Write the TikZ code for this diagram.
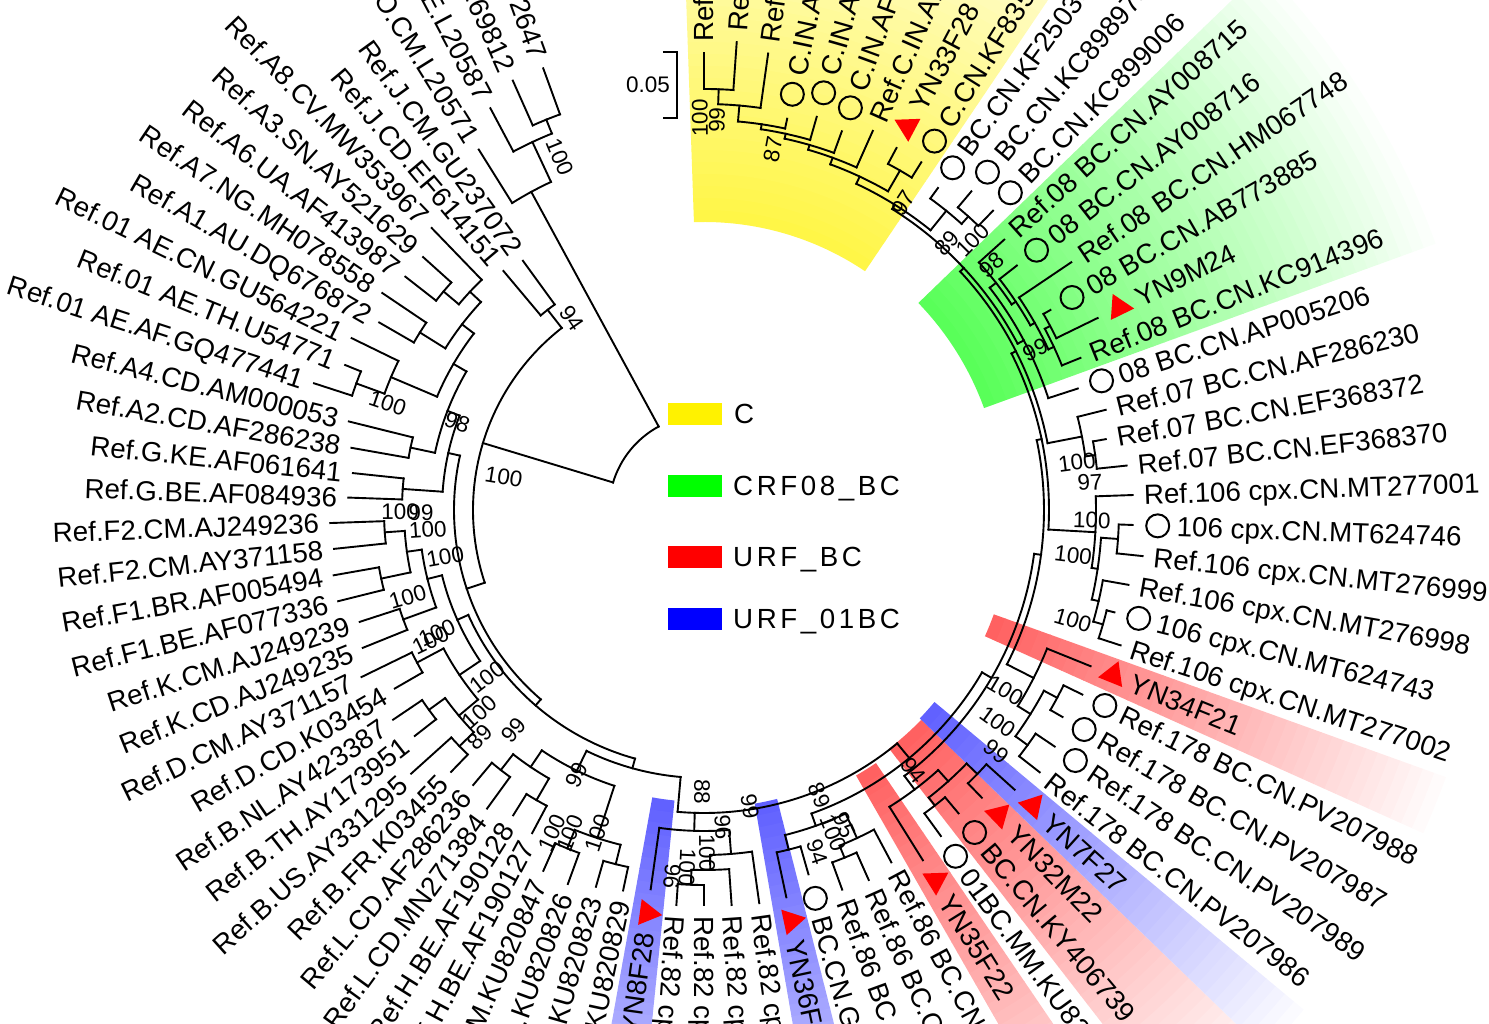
\documentclass[tikz,border=0pt]{standalone}
\usepackage{fontspec}
\setmainfont{Liberation Sans}
\usetikzlibrary{shapes.geometric}
\tikzset{
  br/.style={line width=1.9pt, line cap=rect},
  lab/.style={font=\fontsize{27.7}{30}\selectfont, inner sep=0pt, text height=19.8pt, text depth=0pt},
  boot/.style={font=\fontsize{22.5}{24}\selectfont, inner sep=0pt},
  symc/.style={line width=2pt},
  tri/.style={regular polygon, regular polygon sides=3, fill=red, inner sep=0pt, minimum size=30pt},
  legbox/.style={minimum width=54pt, minimum height=22pt, inner sep=0pt},
  legtxt/.style={font=\fontsize{27.7}{30}\selectfont\addfontfeatures{LetterSpace=13}, inner sep=0pt, anchor=west, text height=19.8pt, text depth=0pt}
}
% arc only
\newcommand\Ab[3]{\draw[br] (#1:#3) arc[start angle=#1,end angle=#2,radius=#3];}
% radial segment only: angle, r1, r2
\newcommand\Rb[3]{\draw[br] (#1:#2) -- (#1:#3);}
% node: arc from a1 to a2 at radius r, stem from parent radius pr
\newcommand\Nd[4]{%
  \pgfmathsetmacro\ndang{(#1+#2)/2}%
  \draw[br] (#1:#3) arc[start angle=#1,end angle=#2,radius=#3];
  \draw[br] (\ndang:#4) -- (\ndang:#3);}
% leaf branch
\newcommand\Lf[3]{%
  \pgfmathsetmacro\lfang{90-4*(#1)}%
  \draw[br] (\lfang:#2) -- (\lfang:#3);}
% leaf label: index, tip radius, symbol (0 none,1 circle,2 triangle), text
\newcommand\Leaf[4]{%
  \pgfmathsetmacro\lfang{90-4*(#1)}%
  \ifcase#3\relax
    \pgfmathsetmacro\lfrad{#2+11}%
  \or
    \pgfmathsetmacro\lfrad{#2+44}%
    \pgfmathsetmacro\symr{#2+25}%
    \draw[symc] (\lfang:\symr) circle[radius=11.5];
  \or
    \pgfmathsetmacro\lfrad{#2+44}%
    \pgfmathsetmacro\symr{#2+24}%
    \node[tri,rotate=\lfang] (tri#1) at (\lfang:\symr) {};
  \fi
  \ifnum#1<47
    \node[lab,anchor=west,rotate=\lfang] (leaf#1) at (\lfang:\lfrad) {#4};
  \else
    \pgfmathsetmacro\lfrot{\lfang+180}%
    \node[lab,anchor=east,rotate=\lfrot] (leaf#1) at (\lfang:\lfrad) {#4};
  \fi}
% bootstrap value
\newcommand\Bs[4]{%
  \pgfmathsetmacro\brot{ifthenelse(#2>96,#2-180,ifthenelse(#2<-96,#2+180,#2))}%
  \node[boot,rotate=\brot] (#1) at (#2:#3) {#4};}
% highlight wedge fading outwards
\newcommand\Wedge[5]{%
  \foreach \k in {0,...,39}{%
    \pgfmathsetmacro\wra{#3+\k*12}%
    \pgfmathsetmacro\wrb{\wra+12.6}%
    \pgfmathsetmacro\wint{#5*(1-\k/40)}%
    \fill[#4!\wint!white] (#1:\wra) arc[start angle=#1,end angle=#2,radius=\wra] -- (#2:\wrb) arc[start angle=#2,end angle=#1,radius=\wrb] -- cycle;
  }}
\begin{document}
\begin{tikzpicture}[x=1pt,y=1pt]
\useasboundingbox (-704,-514) rectangle (785,510);
\clip (-704,-514) rectangle (785,510);
% ---------- clade highlights
\Wedge{92}{56}{288}{yellow}{72}
\Wedge{44}{20}{298}{green}{65}
\Wedge{-19.8}{-24.2}{308}{red}{62}
\Wedge{-44}{-52.2}{302}{red}{62}
\Wedge{-39.8}{-44}{300}{blue}{62}
\Wedge{-55.8}{-60.2}{306}{red}{62}
\Wedge{-75.8}{-80.2}{298}{blue}{62}
\Wedge{-95.8}{-100.2}{292}{blue}{62}
% ---------- tree
\Ab{-241.5}{-196.8}{95}
% group O
\Nd{-238}{-245}{362}{95}
\Nd{-242}{-248}{406}{362}
\Nd{-246}{-250}{421}{406}
\Lf{82}{362}{425} \Lf{83}{406}{455} \Lf{84}{421}{470} \Lf{85}{421}{470}
% group M
\Nd{-232}{-161.7}{231}{95}
\Nd{-230}{-234}{254}{231}
\Lf{80}{254}{312} \Lf{81}{254}{308}
\Nd{-130.75}{-192.56}{250}{231}
% A / G
\Nd{-184}{-201.125}{262}{250}
\Nd{-182}{-186}{302}{262}
\Lf{68}{302}{356} \Lf{69}{302}{353}
\Nd{-192}{-210.25}{275}{262}
\Nd{-190}{-194}{300}{275}
\Lf{70}{300}{358} \Lf{71}{300}{366}
\Nd{-203}{-217.5}{290}{275}
\Nd{-200}{-206}{340}{290}
\Nd{-198}{-202}{370}{340}
\Lf{72}{370}{410} \Lf{73}{370}{387} \Lf{74}{340}{392}
\Nd{-212}{-223}{305}{290}
\Nd{-210}{-214}{335}{305}
\Lf{75}{335}{375} \Lf{76}{335}{388}
\Nd{-220}{-226}{320}{305}
\Nd{-218}{-222}{340}{320}
\Lf{77}{340}{379} \Lf{78}{340}{378} \Lf{79}{320}{392}
% B D F K
\Nd{-105.5}{-156}{258}{250}
\Nd{-146}{-166}{270}{258}
\Nd{-140}{-152}{295}{270}
\Nd{-136}{-144}{320}{295}
\Nd{-134}{-138}{340}{320}
\Nd{-142}{-146}{340}{320}
\Lf{56}{340}{364} \Lf{57}{340}{394} \Lf{58}{340}{367} \Lf{59}{340}{375}
\Nd{-150}{-154}{325}{295}
\Lf{60}{325}{357} \Lf{61}{325}{381}
\Nd{-160}{-172}{285}{270}
\Nd{-158}{-162}{320}{285}
\Lf{62}{320}{368} \Lf{63}{320}{362}
\Nd{-168}{-176}{300}{285}
\Nd{-166}{-170}{330}{300}
\Lf{64}{330}{377} \Lf{65}{330}{376}
\Nd{-174}{-178}{320}{300}
\Lf{66}{320}{372} \Lf{67}{320}{374}
% H L KU
\Nd{-95}{-116}{268}{258}
\Nd{-108}{-124}{290}{268}
\Nd{-104}{-112}{345}{290}
\Nd{-102}{-106}{365}{345}
\Nd{-110}{-114}{365}{345}
\Lf{48}{365}{389} \Lf{49}{365}{392} \Lf{50}{365}{398} \Lf{51}{365}{395}
\Nd{-120}{-128}{310}{290}
\Nd{-118}{-122}{335}{310}
\Lf{52}{335}{366} \Lf{53}{335}{360}
\Nd{-126}{-130}{330}{310}
\Lf{54}{330}{369} \Lf{55}{330}{359}
% right part (ladder)
\Rb{-95}{268}{303}
\Ab{-95}{-50.39}{303}
\Nd{-85.5}{-98}{321}{303}
\Lf{47}{321}{383}
\Nd{-82}{-89}{345}{321}
\Lf{43}{345}{397}
\Nd{-86}{-92}{360}{345}
\Lf{44}{360}{396}
\Nd{-90}{-94}{375}{360}
\Lf{45}{375}{395} \Lf{46}{375}{396}
\Rb{-50.39}{303}{322}
\Ab{-30.285}{-70.5}{322}
\Nd{-65}{-76}{335}{322}
\Nd{-62}{-68}{362}{335}
\Lf{38}{362}{399}
\Nd{-66}{-70}{375}{362}
\Lf{39}{375}{405} \Lf{40}{375}{404}
\Nd{-74}{-78}{350}{335}
\Lf{41}{350}{379} \Lf{42}{350}{396}
\Nd{-7.57}{-53}{333}{322}
\Nd{-48}{-58}{350}{333}
\Lf{37}{350}{413}
\Nd{-44}{-52}{365}{350}
\Nd{-42}{-46}{380}{365}
\Lf{33}{380}{418} \Lf{34}{380}{400}
\Nd{-50}{-54}{375}{365}
\Lf{35}{375}{396} \Lf{36}{375}{403}
\Nd{11.86}{-27}{340}{333}
\Nd{-22}{-32}{370}{340}
\Lf{28}{370}{417}
\Nd{-28}{-36}{385}{370}
\Nd{-26}{-30}{400}{385}
\Lf{29}{400}{421} \Lf{30}{400}{414}
\Nd{-34}{-38}{400}{385}
\Lf{31}{400}{423} \Lf{32}{400}{426}
\Nd{26.98}{-3.25}{345}{340}
\Nd{2}{-8.5}{392}{345}
\Lf{22}{392}{429}
\Nd{-4}{-13}{398}{392}
\Nd{-2}{-6}{415}{398}
\Lf{23}{415}{429} \Lf{24}{415}{441}
\Nd{-10}{-16}{405}{398}
\Lf{25}{405}{431}
\Nd{-14}{-18}{415}{405}
\Lf{26}{415}{423} \Lf{27}{415}{438}
\Nd{42.96}{11}{350}{345}
\Nd{14}{8}{385}{350}
\Lf{19}{385}{414}
\Nd{10}{6}{395}{385}
\Lf{20}{395}{408} \Lf{21}{395}{425}
\Nd{57.98}{27.94}{355}{350}
\Nd{37.875}{18}{362}{355}
\Lf{18}{362}{393}
\Nd{42}{33.75}{370}{362}
\Lf{12}{370}{404}
\Nd{38}{29.5}{375}{370}
\Lf{13}{375}{397}
\Nd{34}{25}{380}{375}
\Lf{14}{380}{443}
\Nd{28}{22}{386}{380}
\Lf{17}{386}{406}
\Nd{30}{26}{392}{386}
\Lf{15}{392}{400} \Lf{16}{392}{438}
\Nd{64.97}{51}{360}{355}
\Nd{54}{48}{385}{360}
\Lf{9}{385}{398}
\Nd{50}{46}{395}{385}
\Lf{10}{395}{416} \Lf{11}{395}{416}
\Nd{69.9375}{60}{368}{360}
\Nd{62}{58}{392}{368}
\Lf{7}{392}{410} \Lf{8}{392}{410}
\Nd{73.875}{66}{375}{368}
\Lf{6}{375}{415}
\Nd{77.75}{70}{380}{375}
\Lf{5}{380}{403}
\Nd{81.5}{74}{385}{380}
\Lf{4}{385}{409}
\Nd{85}{78}{390}{385}
\Lf{3}{390}{400}
\Nd{88}{82}{406}{390}
\Lf{2}{406}{461}
\Nd{90}{86}{421}{406}
\Lf{0}{421}{457} \Lf{1}{421}{469}
% ---------- leaf labels
\Leaf{0}{457}{0}{Ref.C.BR.AY727522}
\Leaf{1}{469}{0}{Ref.C.ET.U46016}
\Leaf{2}{461}{0}{Ref.C.ZA.AY772699}
\Leaf{3}{400}{1}{C.IN.AF286223}
\Leaf{4}{409}{1}{C.IN.AF286224}
\Leaf{5}{403}{1}{C.IN.AF286225}
\Leaf{6}{415}{0}{Ref.C.IN.AF067155}
\Leaf{7}{410}{2}{YN33F28}
\Leaf{8}{410}{1}{C.CN.KF835512}
\Leaf{9}{398}{1}{BC.CN.KF250389}
\Leaf{10}{416}{1}{BC.CN.KC898975}
\Leaf{11}{416}{1}{BC.CN.KC899006}
\Leaf{12}{404}{0}{Ref.08 BC.CN.AY008715}
\Leaf{13}{397}{1}{08 BC.CN.AY008716}
\Leaf{14}{443}{0}{Ref.08 BC.CN.HM067748}
\Leaf{15}{400}{1}{08 BC.CN.AB773885}
\Leaf{16}{438}{2}{YN9M24}
\Leaf{17}{406}{0}{Ref.08 BC.CN.KC914396}
\Leaf{18}{393}{1}{08 BC.CN.AP005206}
\Leaf{19}{414}{0}{Ref.07 BC.CN.AF286230}
\Leaf{20}{408}{0}{Ref.07 BC.CN.EF368372}
\Leaf{21}{425}{0}{Ref.07 BC.CN.EF368370}
\Leaf{22}{429}{0}{Ref.106 cpx.CN.MT277001}
\Leaf{23}{429}{1}{106 cpx.CN.MT624746}
\Leaf{24}{441}{0}{Ref.106 cpx.CN.MT276999}
\Leaf{25}{431}{0}{Ref.106 cpx.CN.MT276998}
\Leaf{26}{423}{1}{106 cpx.CN.MT624743}
\Leaf{27}{438}{0}{Ref.106 cpx.CN.MT277002}
\Leaf{28}{417}{2}{YN34F21}
\Leaf{29}{421}{1}{Ref.178 BC.CN.PV207988}
\Leaf{30}{414}{1}{Ref.178 BC.CN.PV207987}
\Leaf{31}{423}{1}{Ref.178 BC.CN.PV207989}
\Leaf{32}{426}{0}{Ref.178 BC.CN.PV207986}
\Leaf{33}{418}{2}{YN7F27}
\Leaf{34}{400}{2}{YN32M22}
\Leaf{35}{396}{1}{BC.CN.KY406739}
\Leaf{36}{403}{1}{01BC.MM.KU820843}
\Leaf{37}{413}{2}{YN35F22}
\Leaf{38}{399}{0}{Ref.86 BC.CN.KX582249}
\Leaf{39}{405}{0}{Ref.86 BC.CN.KX582250}
\Leaf{40}{404}{0}{Ref.86 BC.CN.KX582251}
\Leaf{41}{379}{1}{BC.CN.GQ273752}
\Leaf{42}{396}{2}{YN36F26}
\Leaf{43}{397}{0}{Ref.82 cpx.CN.KU992926}
\Leaf{44}{396}{0}{Ref.82 cpx.CN.KU992927}
\Leaf{45}{395}{0}{Ref.82 cpx.CN.KU992928}
\Leaf{46}{396}{0}{Ref.82 cpx.CN.KU992929}
\Leaf{47}{383}{2}{YN8F28}
\Leaf{48}{389}{0}{Ref.U.CM.KU820829}
\Leaf{49}{392}{0}{Ref.U.CM.KU820823}
\Leaf{50}{398}{0}{Ref.U.CD.KU820826}
\Leaf{51}{395}{0}{Ref.U.CM.KU820847}
\Leaf{52}{366}{0}{Ref.H.BE.AF190127}
\Leaf{53}{360}{0}{Ref.H.BE.AF190128}
\Leaf{54}{369}{0}{Ref.L.CD.MN271384}
\Leaf{55}{359}{0}{Ref.L.CD.AF286236}
\Leaf{56}{364}{0}{Ref.B.FR.K03455}
\Leaf{57}{394}{0}{Ref.B.US.AY331295}
\Leaf{58}{367}{0}{Ref.B.TH.AY173951}
\Leaf{59}{375}{0}{Ref.B.NL.AY423387}
\Leaf{60}{357}{0}{Ref.D.CD.K03454}
\Leaf{61}{381}{0}{Ref.D.CM.AY371157}
\Leaf{62}{368}{0}{Ref.K.CD.AJ249235}
\Leaf{63}{362}{0}{Ref.K.CM.AJ249239}
\Leaf{64}{377}{0}{Ref.F1.BE.AF077336}
\Leaf{65}{376}{0}{Ref.F1.BR.AF005494}
\Leaf{66}{372}{0}{Ref.F2.CM.AY371158}
\Leaf{67}{374}{0}{Ref.F2.CM.AJ249236}
\Leaf{68}{356}{0}{Ref.G.BE.AF084936}
\Leaf{69}{353}{0}{Ref.G.KE.AF061641}
\Leaf{70}{358}{0}{Ref.A2.CD.AF286238}
\Leaf{71}{366}{0}{Ref.A4.CD.AM000053}
\Leaf{72}{410}{0}{Ref.01 AE.AF.GQ477441}
\Leaf{73}{387}{0}{Ref.01 AE.TH.U54771}
\Leaf{74}{392}{0}{Ref.01 AE.CN.GU564221}
\Leaf{75}{375}{0}{Ref.A1.AU.DQ676872}
\Leaf{76}{388}{0}{Ref.A7.NG.MH078558}
\Leaf{77}{379}{0}{Ref.A6.UA.AF413987}
\Leaf{78}{378}{0}{Ref.A3.SN.AY521629}
\Leaf{79}{392}{0}{Ref.A8.CV.MW353967}
\Leaf{80}{312}{0}{Ref.J.CD.EF614151}
\Leaf{81}{308}{0}{Ref.J.CM.GU237072}
\Leaf{82}{425}{0}{Ref.O.CM.L20571}
\Leaf{83}{455}{0}{Ref.O.BE.L20587}
\Leaf{84}{470}{0}{Ref.O.CM.AY169812}
\Leaf{85}{470}{0}{Ref.O.SN.AJ302647}
% ---------- bootstrap values
\Bs{b1}{90.6}{392}{100}
\Bs{b2}{88.1}{390}{99}
\Bs{b3}{79.2}{367}{87}
\Bs{b4}{57}{366}{97}
\Bs{b5}{47.7}{361}{89}
\Bs{b6}{45.1}{381}{100}
\Bs{b7}{40.4}{378}{98}
\Bs{b8}{25.8}{368}{99}
\Bs{b9}{7.3}{376}{100}
\Bs{b10}{4.1}{387}{97}
\Bs{b11}{-1.5}{388}{100}
\Bs{b12}{-7}{372}{100}
\Bs{b13}{-16.6}{385}{100}
\Bs{b14}{-30.9}{351}{100}
\Bs{b15}{-35.8}{362}{100}
\Bs{b16}{-39.6}{379}{99}
\Bs{b17}{-51.2}{334}{94}
\Bs{b18}{-65.9}{345}{95}
\Bs{b19}{-68.2}{348}{100}
\Bs{b20}{-71.7}{360}{94}
\Bs{b21}{-67.9}{308}{89}
\Bs{b22}{-81.2}{300}{99}
\Bs{b23}{-86.6}{318}{96}
\Bs{b24}{-89.5}{343}{100}
\Bs{b25}{-92.7}{358}{100}
\Bs{b26}{-95}{368}{96}
\Bs{b27}{-90.4}{282}{88}
\Bs{b28}{-115.6}{294}{99}
\Bs{b29}{-115.2}{357}{100}
\Bs{b30}{-112.5}{350}{100}
\Bs{b31}{-108.3}{340}{100}
\Bs{b32}{-130.8}{291}{99}
\Bs{b33}{-134.6}{319}{89}
\Bs{b34}{-138}{302}{100}
\Bs{b35}{-142.4}{274}{100}
\Bs{b36}{-155.3}{294}{100}
\Bs{b37}{-154.5}{303}{100}
\Bs{b38}{-163.6}{309}{100}
\Bs{b39}{-169.7}{263}{100}
\Bs{b40}{-175.9}{277}{100}
\Bs{b41}{-179.6}{304}{100}
\Bs{b42}{-179.4}{283}{99}
\Bs{b43}{160.4}{262}{98}
\Bs{b44}{161.3}{334}{100}
\Bs{b45}{170.6}{203}{100}
\Bs{b46}{124.5}{233}{94}
\Bs{b47}{112.2}{381}{100}
% ---------- scale bar
\draw[br,line cap=butt] (-41,458) -- (-27,458) -- (-27,392) -- (-41,392);
\node[boot] (scalelab) at (-56,425) {0.05};
% ---------- legend
\node[legbox,fill=yellow] (legC) at (-9,96) {};
\node[legtxt] (legCt) at (30,96) {C};
\node[legbox,fill=green] (legG) at (-9,24) {};
\node[legtxt] (legGt) at (29,24) {CRF08\_BC};
\node[legbox,fill=red] (legR) at (-9,-47) {};
\node[legtxt] (legRt) at (29,-47) {URF\_BC};
\node[legbox,fill=blue] (legB) at (-9,-109) {};
\node[legtxt] (legBt) at (29,-109) {URF\_01BC};
\end{tikzpicture}
\end{document}
